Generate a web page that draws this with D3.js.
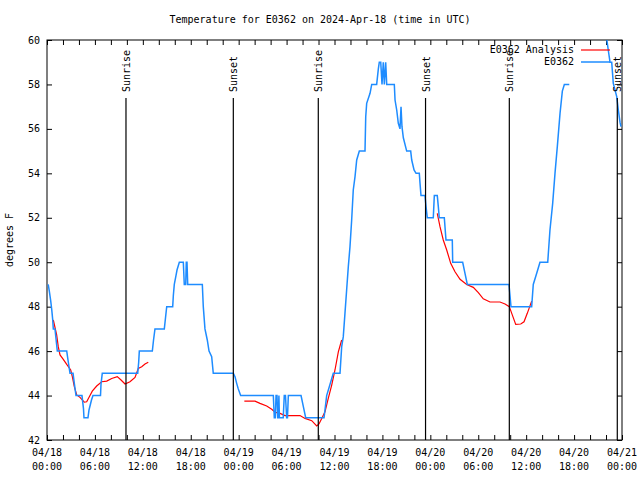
<!DOCTYPE html>
<html><head><meta charset="utf-8">
<script src="https://cdn.jsdelivr.net/npm/d3@7"></script>
<style>
body{margin:0;background:#fff}
text{font-family:"DejaVu Sans Mono","Liberation Mono",monospace;font-size:10px;fill:#000}
</style>
</head><body>
<svg id="chart" width="640" height="480"></svg>
<script>
// ---- data (hours since 2024-04-18 00:00 UTC) ----
const titleText = "Temperature for E0362 on 2024-Apr-18 (time in UTC)";
const yLabel = "degrees F";
const seriesNames = ["E0362 Analysis", "E0362"];
const yTicks = [42,44,46,48,50,52,54,56,58,60];
const xMajorHours = [0,6,12,18,24,30,36,42,48,54,60,66,72];
const sunriseHours = [9.89, 33.97, 57.89];
const sunsetHours = [23.33, 47.40, 71.41];

const analysisHours = [0.79,1.21,1.41,1.63,2.04,2.47,2.97,3.17,3.42,3.72,4.13,4.67,4.97,5.30,5.67,6.22,6.85,7.48,8.10,8.80,9.27,9.77,10.39,11.02,11.43,11.86,12.27,12.68,
  null,
  24.71,26.05,26.67,27.51,28.14,28.55,29.18,29.80,31.68,32.31,33.15,33.77,34.06,34.40,34.81,35.22,35.65,36.06,36.48,36.90,
  null,
  48.87,49.21,49.62,50.05,50.55,51.09,51.72,52.55,53.38,54.01,54.63,55.47,56.72,57.35,57.89,58.26,58.69,59.32,59.73,60.14,60.69];
const analysisTemps = [47.4,46.73,46.2,45.83,45.63,45.4,45.15,44.85,44.4,44.03,43.92,43.7,43.72,43.95,44.2,44.43,44.62,44.65,44.77,44.85,44.7,44.52,44.62,44.82,45.22,45.3,45.42,45.5,
  null,
  43.75,43.75,43.65,43.53,43.38,43.25,43.2,43.1,43.1,42.97,42.87,42.63,42.72,42.97,43.27,43.87,44.47,45.15,45.97,46.5,
  null,
  52.2,51.6,51.0,50.55,49.95,49.57,49.23,49.0,48.87,48.63,48.35,48.21,48.21,48.12,48.0,47.63,47.2,47.22,47.32,47.7,48.25];

const obsHours = [0.15,0.29,0.46,0.59,0.71,0.79,1.0,1.13,1.29,2.47,2.63,2.88,3.26,3.42,3.63,4.38,4.57,4.63,5.13,5.26,5.57,5.76,6.70,6.76,6.92,
  11.36,11.48,11.56,13.19,13.34,13.52,14.69,14.84,14.99,15.74,15.82,15.94,16.15,16.28,16.57,17.07,17.19,17.37,17.44,17.53,17.62,
  19.45,19.57,19.78,20.07,20.29,20.62,20.82,23.33,23.54,23.75,23.95,24.25,
  28.34,28.46,28.59,28.68,28.80,28.89,28.96,29.04,29.10,29.58,29.71,29.86,30.01,30.11,30.22,31.81,32.10,32.39,34.69,35.02,35.85,36.69,
  36.90,37.10,37.31,37.52,37.73,37.94,38.15,38.35,38.57,38.78,39.11,39.82,39.91,40.03,40.45,40.66,41.28,41.49,41.61,41.79,41.95,42.11,42.24,42.41,42.54,
  43.49,43.58,43.79,43.99,44.20,44.33,44.45,44.62,45.04,45.54,45.67,45.96,46.21,46.62,46.71,46.83,47.33,47.46,47.62,48.37,48.50,48.87,49.00,49.12,
  49.75,49.96,50.75,50.80,52.05,52.34,52.63,57.85,58.10,60.69,60.89,61.32,61.73,62.70,62.98,63.32,63.61,63.90,64.24,64.53,64.78,65.40,
  null,
  69.99,70.28,70.50,70.71,70.91,71.34,71.54,71.75,71.87];
const obsTemps = [49.0,48.7,48.27,47.88,47.43,47.0,47.0,46.55,46.0,46.0,45.6,45.0,45.0,44.55,44.0,44.0,43.4,43.0,43.0,43.35,43.8,44.0,44.0,44.5,45.0,
  45.0,45.5,46.0,46.0,46.5,47.0,47.0,47.5,48.0,48.0,48.5,49.0,49.4,49.65,50.0,50.0,49.0,49.0,50.0,50.0,49.0,
  49.0,48.0,47.0,46.5,46.0,45.75,45.0,45.0,44.85,44.55,44.3,44.0,
  44.0,43.0,43.0,44.0,44.0,43.0,43.0,44.0,43.0,43.0,44.0,44.0,43.0,43.0,44.0,44.0,43.5,43.0,43.0,44.0,45.0,45.0,
  46.2,46.65,47.7,48.75,49.8,50.7,51.9,53.25,53.85,54.6,55.0,55.0,56.55,57.15,57.6,58.0,58.0,58.7,59.0,59.0,58.0,59.0,58.0,59.0,58.0,
  58.0,57.3,56.85,56.25,56.0,57.0,56.1,55.6,55.0,55.0,54.6,54.15,54.0,54.0,53.55,53.0,53.0,52.5,52.0,52.0,53.0,53.0,52.5,52.0,
  52.0,51.0,51.0,50.0,50.0,49.5,49.0,49.0,48.0,48.0,49.0,49.5,50.0,50.0,51.45,52.65,54.0,55.2,56.7,57.7,58.0,58.0,
  null,
  60.3,59.55,59.0,59.0,58.05,57.45,56.85,56.3,56.1];

// ---- drawing ----
const T0 = Date.UTC(2024, 3, 18);
const toDate = h => new Date(T0 + h * 3600e3);
const svg = d3.select("#chart");
const L = 47, R = 622, TOP = 40, BOT = 440;
const x = d3.scaleUtc().domain([toDate(0), toDate(72)]).range([L, R]);
const y = d3.scaleLinear().domain([42, 60]).range([BOT, TOP]);

svg.append("defs").append("clipPath").attr("id","clip")
  .append("rect").attr("x",L).attr("y",TOP).attr("width",R-L).attr("height",BOT-TOP);

// title
svg.append("text").attr("x", 320).attr("y", 20).attr("text-anchor","middle")
  .attr("dominant-baseline","middle").text(titleText);

// y label
svg.append("text").attr("transform","translate(10,240) rotate(-90)")
  .attr("text-anchor","middle").attr("dominant-baseline","middle").text(yLabel);

const minorTicks = d3.range(0, 73, 2).map(toDate);

// axes
const gx = svg.append("g").attr("transform",`translate(0,${BOT})`)
  .call(d3.axisBottom(x).tickValues(minorTicks).tickSize(-5).tickFormat(""));
const gxt = svg.append("g").attr("transform",`translate(0,${TOP})`)
  .call(d3.axisTop(x).tickValues(minorTicks).tickSize(-5).tickFormat(""));
const gy = svg.append("g").attr("transform",`translate(${L},0)`)
  .call(d3.axisLeft(y).tickValues(yTicks).tickSize(-5).tickPadding(7).tickFormat(d3.format("d")));
const gyr = svg.append("g").attr("transform",`translate(${R},0)`)
  .call(d3.axisRight(y).tickValues(yTicks).tickSize(-5).tickFormat(""));
[gx,gxt,gy,gyr].forEach(g=>{ g.select(".domain").remove(); g.selectAll("line").attr("stroke","#000"); });
gy.selectAll("text").attr("font-family",null).attr("font-size",null).attr("dy",null)
  .attr("dominant-baseline","middle");

// x tick labels (two lines)
const fmtD = d3.utcFormat("%m/%d"), fmtT = d3.utcFormat("%H:%M");
const xl = svg.append("g");
xMajorHours.forEach(h => {
  const d = toDate(h);
  const t = xl.append("text").attr("x", x(d)).attr("text-anchor","middle");
  t.append("tspan").attr("x", x(d)).attr("y", 456).text(fmtD(d));
  t.append("tspan").attr("x", x(d)).attr("y", 470).text(fmtT(d));
});

// border
svg.append("rect").attr("x",L).attr("y",TOP).attr("width",R-L).attr("height",BOT-TOP)
  .attr("fill","none").attr("stroke","#000").attr("stroke-width",1);

// data lines
const plot = svg.append("g").attr("clip-path","url(#clip)");
const mk = (hs, vs) => hs.map((h,i)=> h===null ? null : {t:toDate(h), v:vs[i]});
const line = d3.line().defined(d=>d!==null).x(d=>x(d.t)).y(d=>y(d.v));
plot.append("path").datum(mk(analysisHours, analysisTemps)).attr("d", line)
  .attr("fill","none").attr("stroke","#ff0000").attr("stroke-width",1.2);
plot.append("path").datum(mk(obsHours, obsTemps)).attr("d", line)
  .attr("fill","none").attr("stroke","#1e8cff").attr("stroke-width",1.5);

// sunrise / sunset markers
const events = sunriseHours.map(h=>({h, name:"Sunrise"})).concat(sunsetHours.map(h=>({h, name:"Sunset"})));
events.forEach(e => {
  const px = x(toDate(e.h));
  svg.append("line").attr("x1",px).attr("x2",px).attr("y1",98).attr("y2",BOT)
    .attr("stroke","#000").attr("stroke-width",1.2);
  svg.append("text").attr("transform",`translate(${px+1},92) rotate(-90)`)
    .attr("text-anchor","start").attr("dominant-baseline","middle").text(e.name);
});

// legend
const legColors = ["#ff0000","#1e8cff"];
seriesNames.forEach((n,i) => {
  const ly = 50 + i*12;
  svg.append("text").attr("x",574).attr("y",ly).attr("text-anchor","end")
    .attr("dominant-baseline","middle").text(n);
  svg.append("line").attr("x1",581).attr("x2",610).attr("y1",ly).attr("y2",ly)
    .attr("stroke",legColors[i]).attr("stroke-width", i ? 1.5 : 1.2);
});
</script>
</body></html>
